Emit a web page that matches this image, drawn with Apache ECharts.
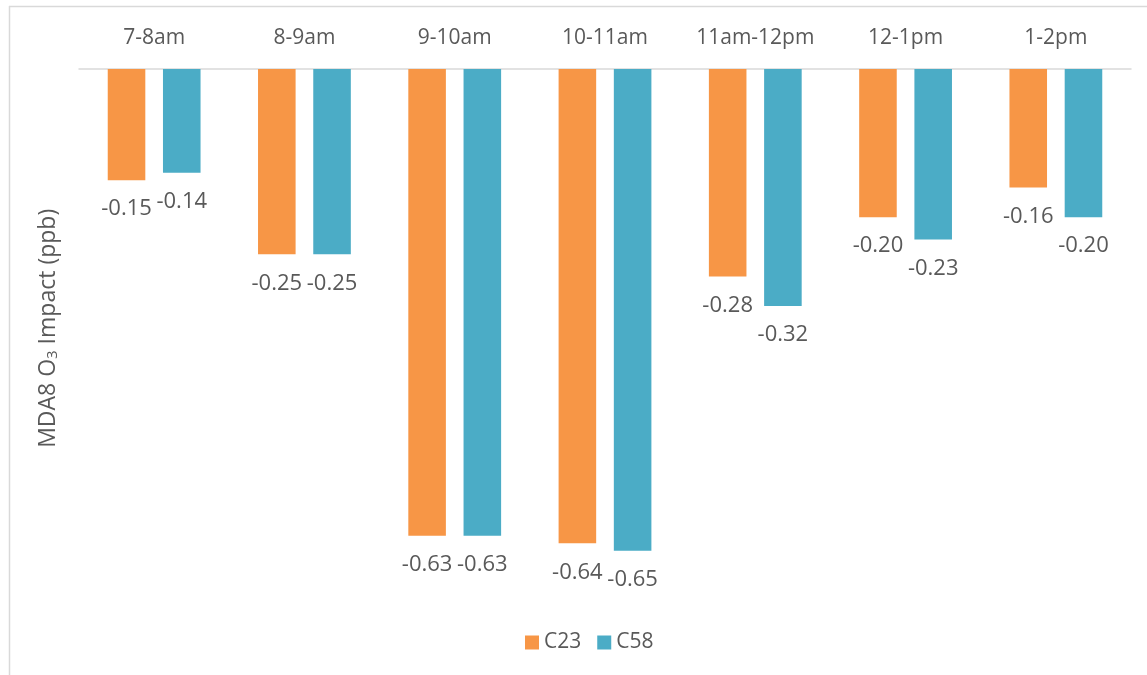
<!DOCTYPE html>
<html>
<head>
<meta charset="utf-8">
<script src="https://cdn.jsdelivr.net/npm/echarts@6/dist/echarts.min.js"></script>
<style>
  html, body { margin: 0; padding: 0; background: #fff; }
  #chart { width: 1147px; height: 675px; }
</style>
</head>
<body>
<div id="chart"></div>
<script>
// Hourly periods and the MDA8 ozone impact for each scenario
const categories = ['7-8am', '8-9am', '9-10am', '10-11am', '11am-12pm', '12-1pm', '1-2pm'];
const seriesNames = ['C23', 'C58'];
const c23Values = [-0.15, -0.25, -0.63, -0.64, -0.28, -0.20, -0.16];
const c58Values = [-0.14, -0.25, -0.63, -0.65, -0.32, -0.23, -0.20];

const FONT = '"Open Sans", "Noto Sans", sans-serif';
const TEXT = '#595959';

const chart = echarts.init(document.getElementById('chart'), null, { renderer: 'canvas' });

function barSeries(name, values, color) {
  return {
    name: name,
    type: 'bar',
    data: values,
    barWidth: '25%',
    barGap: '47%',
    itemStyle: { color: color },
    label: {
      show: true,
      position: 'bottom',
      distance: 18,
      color: TEXT,
      fontFamily: FONT,
      fontSize: 22,
      formatter: p => p.value.toFixed(2)
    }
  };
}

chart.setOption({
  animation: false,
  backgroundColor: '#fff',
  graphic: [
    // chart frame
    { type: 'line', shape: { x1: 9, y1: 6.5, x2: 1147, y2: 6.5 }, style: { stroke: '#d9d9d9', lineWidth: 1.5 } },
    { type: 'line', shape: { x1: 9.5, y1: 6, x2: 9.5, y2: 675 }, style: { stroke: '#d9d9d9', lineWidth: 1.5 } }
  ],
  grid: { left: 79, right: 16, top: 69, height: 518.7 },
  legend: {
    data: seriesNames,
    left: 520,
    top: 627,
    itemWidth: 14,
    itemHeight: 14,
    itemGap: 16,
    icon: 'rect',
    textStyle: { color: TEXT, fontFamily: FONT, fontSize: 21 }
  },
  xAxis: {
    type: 'category',
    position: 'top',
    data: categories,
    axisLine: { show: true, lineStyle: { color: '#d9d9d9', width: 1.5 } },
    axisTick: { show: false },
    axisLabel: { interval: 0, color: TEXT, fontFamily: FONT, fontSize: 21, margin: 20 }
  },
  yAxis: {
    type: 'value',
    min: -0.7,
    max: 0,
    axisLine: { show: false },
    axisTick: { show: false },
    axisLabel: { show: false },
    splitLine: { show: false },
    name: '{t|MDA8 O}{s|3}{t| Impact (ppb)}',
    nameLocation: 'middle',
    nameRotate: 90,
    nameGap: 19,
    nameTextStyle: {
      rich: {
        t: { color: TEXT, fontFamily: FONT, fontSize: 23 },
        s: { color: TEXT, fontFamily: FONT, fontSize: 15, verticalAlign: 'bottom', padding: [9, 0, 0, 0] }
      }
    }
  },
  series: [
    barSeries(seriesNames[0], c23Values, '#F79646'),
    barSeries(seriesNames[1], c58Values, '#4BACC6')
  ]
});
</script>
</body>
</html>
